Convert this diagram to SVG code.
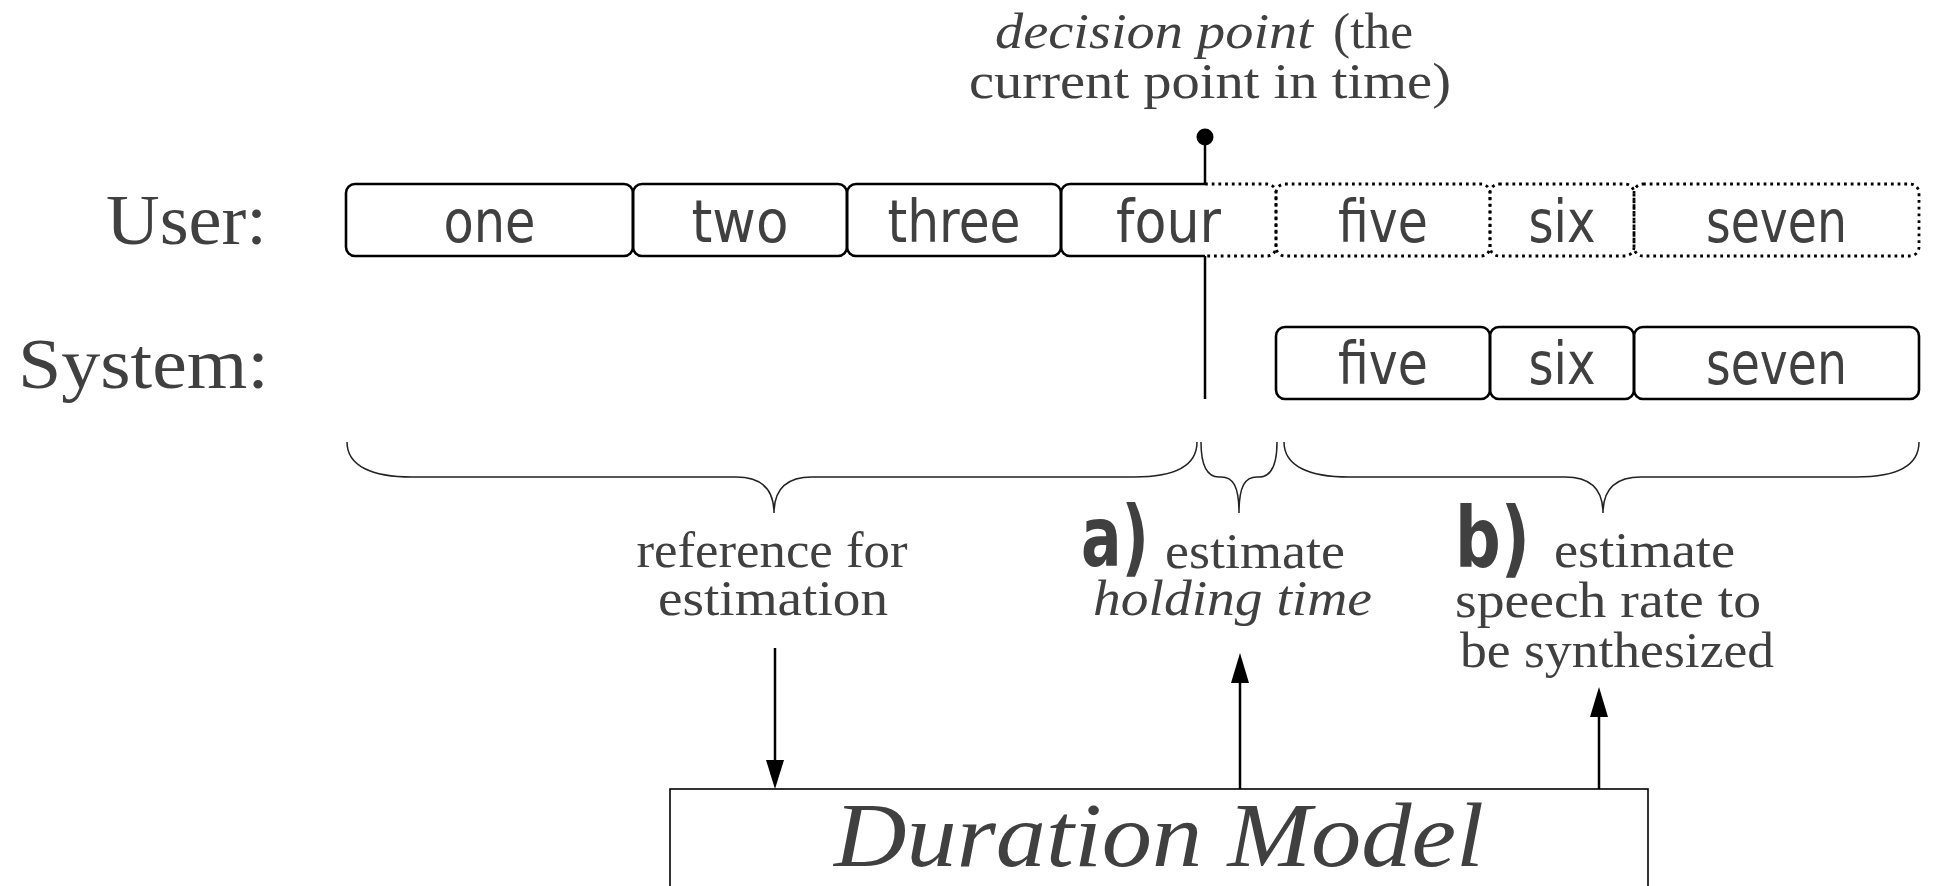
<svg xmlns="http://www.w3.org/2000/svg" width="1933" height="886" viewBox="0 0 1933 886">
<defs>
<style>
.lbl{font-family:'Liberation Serif','DejaVu Serif',serif;fill:#404040}
.it{font-style:italic}
.sans{font-family:'DejaVu Sans',sans-serif;font-size:58px;fill:#404040;text-anchor:middle}
.bold{font-family:'DejaVu Sans',sans-serif;font-weight:bold;font-size:84px;fill:#404040}
.box{fill:none;stroke:#000;stroke-width:2.6}
.dot{fill:none;stroke:#000;stroke-width:2.8;stroke-dasharray:2.8 3.9}
.brace{fill:none;stroke:#222;stroke-width:1.5}
.ln{stroke:#000;stroke-width:2.5;fill:none}
</style>
</defs>
<rect width="1933" height="886" fill="#fff"/>

<g id="row-labels">
<text class="lbl" x="106" y="244" font-size="72" textLength="161" lengthAdjust="spacingAndGlyphs">User:</text>
<text class="lbl" x="18" y="388" font-size="72" textLength="251" lengthAdjust="spacingAndGlyphs">System:</text>
</g>

<g id="user-one"><rect class="box" x="346" y="184" width="287" height="72" rx="9"/><text class="sans" x="489.5" y="242" textLength="92" lengthAdjust="spacingAndGlyphs">one</text></g>
<g id="user-two"><rect class="box" x="633" y="184" width="214" height="72" rx="9"/><text class="sans" x="740" y="242" textLength="97" lengthAdjust="spacingAndGlyphs">two</text></g>
<g id="user-three"><rect class="box" x="847" y="184" width="214" height="72" rx="9"/><text class="sans" x="954" y="242" textLength="133" lengthAdjust="spacingAndGlyphs">three</text></g>
<g id="user-four">
<path class="box" d="M1205,184 H1070 A9,9 0 0 0 1061,193 V247 A9,9 0 0 0 1070,256 H1205"/>
<path class="dot" d="M1205,184 H1267 A9,9 0 0 1 1276,193 V247 A9,9 0 0 1 1267,256 H1205"/>
<text class="sans" x="1168.5" y="242" textLength="105" lengthAdjust="spacingAndGlyphs">four</text></g>
<g id="user-five"><rect class="dot" x="1276" y="184" width="214" height="72" rx="9"/><text class="sans" x="1383" y="242" textLength="90" lengthAdjust="spacingAndGlyphs">five</text></g>
<g id="user-six"><rect class="dot" x="1490" y="184" width="144" height="72" rx="9"/><text class="sans" x="1562" y="242" textLength="67" lengthAdjust="spacingAndGlyphs">six</text></g>
<g id="user-seven"><rect class="dot" x="1634" y="184" width="285" height="72" rx="9"/><text class="sans" x="1776.5" y="242" textLength="141" lengthAdjust="spacingAndGlyphs">seven</text></g>

<g id="sys-five"><rect class="box" x="1276" y="327" width="214" height="72" rx="9"/><text class="sans" x="1383" y="384" textLength="90" lengthAdjust="spacingAndGlyphs">five</text></g>
<g id="sys-six"><rect class="box" x="1490" y="327" width="144" height="72" rx="9"/><text class="sans" x="1562" y="384" textLength="67" lengthAdjust="spacingAndGlyphs">six</text></g>
<g id="sys-seven"><rect class="box" x="1634" y="327" width="285" height="72" rx="9"/><text class="sans" x="1776.5" y="384" textLength="141" lengthAdjust="spacingAndGlyphs">seven</text></g>

<g id="decision-point">
<circle cx="1205" cy="137" r="8.5" fill="#000"/>
<line class="ln" x1="1205" y1="137" x2="1205" y2="184"/>
<line class="ln" x1="1205" y1="256" x2="1205" y2="399"/>
<text class="lbl it" x="995" y="48" font-size="50" textLength="318" lengthAdjust="spacingAndGlyphs">decision point</text>
<text class="lbl" x="1333" y="48" font-size="50" textLength="80" lengthAdjust="spacingAndGlyphs">(the</text>
<text class="lbl" x="969" y="98" font-size="50" textLength="482" lengthAdjust="spacingAndGlyphs">current point in time)</text>
</g>

<g id="braces">
<path class="brace" d="M347,442 C347,466 372,477 412,477 L736,477 C760,477 774,488 774,513 C774,488 788,477 812,477 L1134,477 C1174,477 1197,466 1197,442"/>
<path class="brace" d="M1201,442 C1201,466 1207,477 1219,477 L1221,477 C1233,477 1239,486 1239,513 C1239,486 1245,477 1257,477 L1259,477 C1271,477 1277,466 1277,442"/>
<path class="brace" d="M1284,442 C1284,466 1309,477 1349,477 L1565,477 C1589,477 1603,488 1603,513 C1603,488 1617,477 1641,477 L1856,477 C1896,477 1919,466 1919,442"/>
</g>

<g id="label-reference">
<text class="lbl" x="772" y="567" font-size="50" text-anchor="middle" textLength="271" lengthAdjust="spacingAndGlyphs">reference for</text>
<text class="lbl" x="773" y="615" font-size="50" text-anchor="middle" textLength="230" lengthAdjust="spacingAndGlyphs">estimation</text>
</g>

<g id="label-a">
<text class="bold" x="1081" y="566" textLength="68" lengthAdjust="spacingAndGlyphs">a)</text>
<text class="lbl" x="1165" y="568" font-size="50" textLength="180" lengthAdjust="spacingAndGlyphs">estimate</text>
<text class="lbl it" x="1093" y="615" font-size="50" textLength="279" lengthAdjust="spacingAndGlyphs">holding time</text>
</g>

<g id="label-b">
<text class="bold" x="1455" y="567" textLength="75" lengthAdjust="spacingAndGlyphs">b)</text>
<text class="lbl" x="1554" y="567" font-size="50" textLength="181" lengthAdjust="spacingAndGlyphs">estimate</text>
<text class="lbl" x="1455" y="617" font-size="50" textLength="306" lengthAdjust="spacingAndGlyphs">speech rate to</text>
<text class="lbl" x="1460" y="667" font-size="50" textLength="314" lengthAdjust="spacingAndGlyphs">be synthesized</text>
</g>

<g id="duration-model">
<rect x="670" y="789" width="978" height="130" fill="none" stroke="#000" stroke-width="1.6"/>
<text class="lbl it" x="1159" y="866" font-size="92" text-anchor="middle" textLength="650" lengthAdjust="spacingAndGlyphs">Duration Model</text>
</g>

<g id="connectors">
<line class="ln" x1="775" y1="648" x2="775" y2="764"/>
<polygon points="775,789 766,760 784,760" fill="#000"/>
<line class="ln" x1="1240" y1="789" x2="1240" y2="680"/>
<polygon points="1240,653 1231,683 1249,683" fill="#000"/>
<line class="ln" x1="1599" y1="789" x2="1599" y2="714"/>
<polygon points="1599,687 1590,717 1608,717" fill="#000"/>
</g>
</svg>
